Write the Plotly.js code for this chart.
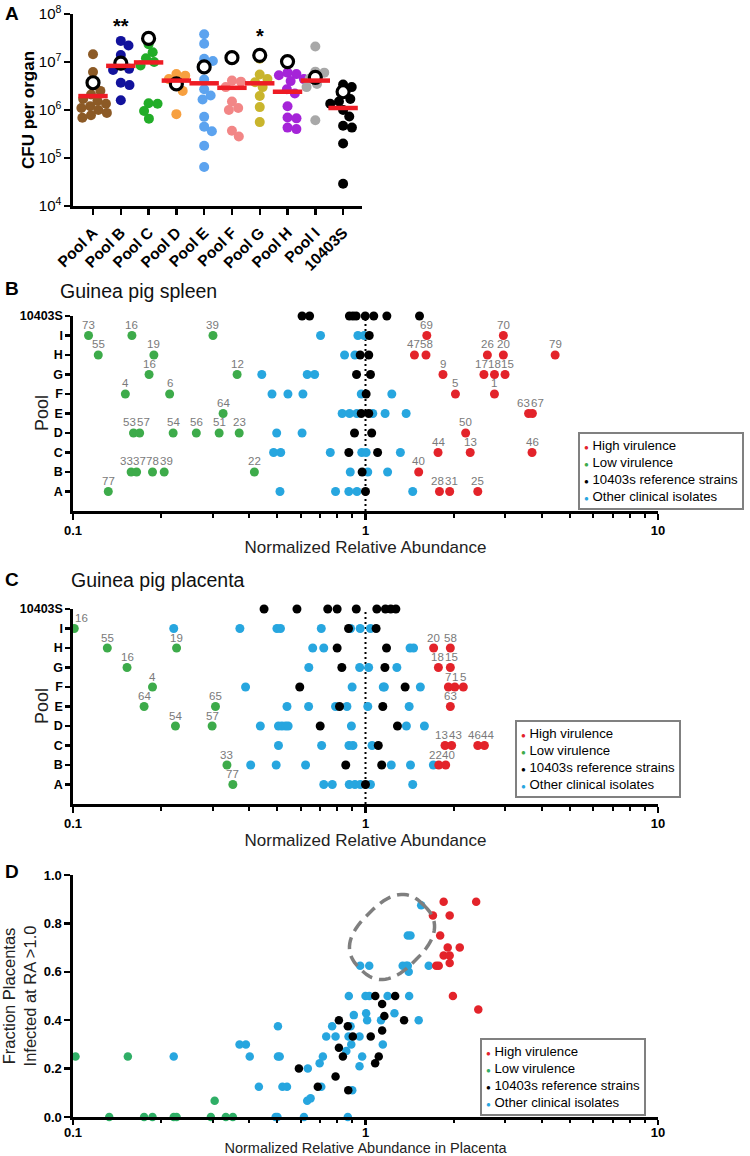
<!DOCTYPE html>
<html><head><meta charset="utf-8">
<script src="https://cdn.plot.ly/plotly-3.0.1.min.js"></script>
<style>body{margin:0;background:#fff}</style>
</head><body><div id="chart" style="width:750px;height:1156px"></div>
<script>
// ---------------- DATA ----------------
// Panel A: CFU per organ
const pools = ['Pool A','Pool B','Pool C','Pool D','Pool E','Pool F','Pool G','Pool H','Pool I','10403S'];
const cfuPoolA = [1.45e7, 6.2e6, 3.2e6, 2.5e6, 2.1e6, 1.7e6, 1.55e6, 1.35e6, 1.2e6, 1.1e6, 1.0e6, 8.7e5, 7.8e5, 6.9e5];
const cfuPoolB = [2.75e7, 2.2e7, 1.4e7, 8.5e6, 7.2e6, 6.8e6, 3.7e6, 3.3e6, 1.6e6];
const cfuPoolC = [2.35e7, 1.6e7, 1.2e7, 1.0e7, 8.5e6, 1.38e6, 1.35e6, 9.5e5, 6.6e5];
const cfuPoolD = [5.6e6, 5.2e6, 4.4e6, 3.4e6, 2.5e6, 8.2e5];
const cfuPoolE = [3.8e7, 2.4e7, 1.17e7, 1.05e7, 4.3e6, 2.7e6, 2.0e6, 1.65e6, 7.2e5, 4.5e5, 3.6e5, 1.8e5, 6.5e4];
const cfuPoolF = [4.1e6, 3.9e6, 3.0e6, 1.5e6, 1.1e6, 1.0e6, 3.7e5, 2.8e5];
const cfuPoolG = [1.17e7, 5.5e6, 4.4e6, 3.8e6, 3.0e6, 1.95e6, 1.15e6, 5.6e5];
const cfuPoolH = [6.0e6, 5.6e6, 5.3e6, 4.4e6, 4.0e6, 2.7e6, 2.2e6, 1.2e6, 7.0e5, 6.7e5, 4.3e5, 4.0e5];
const cfuPoolI = [2.1e7, 6.3e6, 6.0e6, 4.5e6, 3.5e6, 3.0e6, 6.1e5];
const cfu10403S = [3.4e6, 3.0e6, 2.2e6, 1.7e6, 1.5e6, 1.35e6, 1.0e6, 7.3e5, 4.7e5, 4.3e5, 2.0e5, 2.9e4];
const cfuRing = [3.7e6, 9.5e6, 3.1e7, 3.5e6, 7.9e6, 1.23e7, 1.38e7, 1.02e7, 4.8e6, 2.4e6];
const cfuMedian = [1.95e6, 8.3e6, 9.8e6, 4.1e6, 3.6e6, 2.9e6, 3.6e6, 2.4e6, 4.1e6, 1.1e6];
const cfuTickVals = [1e4, 1e5, 1e6, 1e7, 1e8];
const cfuTickText = ['10<sup>4</sup>', '10<sup>5</sup>', '10<sup>6</sup>', '10<sup>7</sup>', '10<sup>8</sup>'];

// Panels B/C rows
const rows = ['A','B','C','D','E','F','G','H','I','10403S'];
const legendNames = ['High virulence','Low virulence','10403s reference strains','Other clinical isolates'];

// Panel B: spleen
const spleenHighRow = ['I','I','H','H','H','H','H','G','G','G','G','F','F','E','E','D','C','C','C','B','A','A','A'];
const spleenHighRA = [1.62,2.96,1.47,1.61,2.61,2.96,4.45,1.84,2.54,2.76,3.0,2.03,2.76,3.61,3.72,2.2,1.77,2.28,3.71,1.52,1.79,1.94,2.42];
const spleenHighLabel = ['69','70','47','58','26','20','79','9','17','18','15','5','1','63','67','50','44','13','46','40','28','31','25'];
const spleenLowRow = ['I','I','I','H','H','G','G','F','F','E','D','D','D','D','D','D','B','B','B','B','B','A'];
const spleenLowRA = [0.113,0.159,0.301,0.122,0.189,0.182,0.364,0.151,0.214,0.326,0.161,0.169,0.220,0.264,0.316,0.370,0.158,0.165,0.187,0.205,0.417,0.132];
const spleenLowLabel = ['73','16','39','55','19','16','12','4','6','64','53','57','54','56','51','23','33','37','78','39','22','77'];
const spleenRefRow = ['10403S','10403S','10403S','10403S','10403S','10403S','10403S','10403S','10403S','I','H','H','G','G','F','E','E','D','D','C','C','B','A'];
const spleenRefRA = [0.607,0.644,0.881,0.906,0.929,0.998,1.067,1.183,1.53,1.03,0.959,1.026,0.932,1.04,1.005,0.967,1.026,0.917,1.05,0.877,1.10,0.974,1.0];
const spleenOtherRow = ['I','I','I','H','H','G','G','G','F','F','F','F','F','E','E','E','E','E','E','D','D','C','C','C','C','C','C','B','B','B','A','A','A','A','A'];
const spleenOtherRA = [0.702,0.942,0.99,0.848,0.92,0.442,0.632,0.67,0.479,0.543,0.611,0.967,1.23,0.832,0.882,0.934,1.059,1.167,1.377,0.497,0.607,0.485,0.513,0.758,0.971,1.005,1.316,0.887,1.018,1.19,0.51,0.79,0.877,0.935,1.45];

// Panel C: placenta
const placHighRow = ['H','H','G','G','F','F','F','E','C','C','C','C','B','B'];
const placHighRA = [1.71,1.95,1.775,1.95,1.92,2.02,2.16,1.95,1.87,1.97,2.42,2.55,1.78,1.88];
const placHighLabel = ['20','58','18','15','7','1','5','63','13','43','46','44','22','40'];
const placLowRow = ['I','H','H','G','F','E','E','D','D','B','A'];
const placLowRA = [0.101,0.131,0.226,0.153,0.187,0.175,0.307,0.224,0.299,0.336,0.352];
const placLowLabel = ['16','55','19','16','4','64','65','54','57','33','77'];
const placRefRow = ['10403S','10403S','10403S','10403S','10403S','10403S','10403S','10403S','10403S','I','I','H','H','G','G','F','F','E','E','D','D','C','B','B','A'];
const placRefRA = [0.45,0.583,0.743,0.80,0.93,1.093,1.17,1.22,1.27,0.875,1.087,0.80,1.18,0.83,1.165,0.596,1.366,0.815,1.146,0.70,1.286,1.106,0.856,1.136,1.0];
const placOtherRow = ['I','I','I','I','I','I','I','I','H','H','H','H','G','G','G','G','F','F','F','F','F','E','E','E','E','E','E','D','D','D','D','D','D','D','D','C','C','C','C','C','B','B','B','B','B','B','A','A','A','A','A','A','A'];
const placOtherRA = [0.221,0.372,0.498,0.512,0.706,0.889,0.959,1.04,0.66,0.72,1.42,1.46,0.64,0.955,1.025,1.28,0.389,0.9,1.15,1.16,1.54,0.539,0.639,0.79,0.864,1.018,1.41,0.437,0.504,0.518,0.533,0.544,0.895,1.38,1.59,0.504,0.708,0.878,0.906,1.053,0.405,0.495,0.624,1.225,1.425,1.706,0.72,0.77,0.88,0.92,0.96,1.04,1.45];

// Panel D: fraction placentas infected vs RA in placenta
const dHighRA = [1.85,2.39,1.70,1.94,1.80,1.91,2.10,1.85,1.94,1.94,1.745,1.78,1.99,2.43];
const dHighFrac = [0.889,0.889,0.833,0.833,0.75,0.70,0.70,0.667,0.667,0.636,0.625,0.625,0.5,0.444];
const dLowRA = [0.102,0.154,0.305,0.133,0.175,0.187,0.221,0.226,0.296,0.333,0.352];
const dLowFrac = [0.25,0.25,0.067,0,0,0,0,0,0,0,0];
const dRefRA = [0.592,0.687,0.79,0.811,0.811,0.837,0.87,0.873,0.905,1.042,1.08,1.079,1.11,1.14,1.14,1.16,1.263,1.355];
const dRefFrac = [0.2,0.125,0.167,0.4,0.286,0.25,0.375,0.111,0.333,0.333,0.5,0.222,0.25,0.467,0.357,0.417,0.5,0.4];
const dOtherRA = [0.221,0.371,0.39,0.402,0.432,0.502,0.502,0.509,0.52,0.539,0.493,0.50,0.616,0.632,0.649,0.635,0.697,0.715,0.706,0.734,0.769,0.79,0.86,0.87,0.877,0.889,0.894,0.901,0.912,0.875,0.954,0.974,0.954,1.0,1.03,1.005,1.013,1.13,1.146,1.19,1.256,1.41,1.52,0.959,1.03,1.34,1.377,1.395,1.405,1.395,1.425,1.55,1.645];
const dOtherFrac = [0.25,0.3,0.3,0.25,0.125,0.375,0.25,0.25,0.125,0.125,0,0,0,0.067,0.077,0.2,0.222,0.25,0.125,0.333,0.375,0.333,0.273,0,0.5,0.375,0.3,0.111,0.421,0.333,0.333,0.25,0.21,0.5,0.5,0.429,0.4,0.4,0.3,0.5,0.429,0.5,0.4,0.625,0.625,0.625,0.625,0.625,0.6,0.75,0.75,0.875,0.625];

// ---------------- STYLE ----------------
const W = 750, H = 1156;
const FONT = 'Liberation Sans, Arial, Helvetica, sans-serif';
const fx = p => p / W, fy = p => 1 - p / H;
const RED = '#e3232a', GREEN = '#3dab4a', GREEN_D = '#2fae66', BLUE = '#27a6df', BLACK = '#000000';
const poolColors = ['#8c5a26','#12129c','#22ad28','#f7a040','#5ca3ef','#f28686','#c9b52c','#a524d8','#a8a8a8','#000000'];
const LABEL_GREY = '#7a7a7a';
const X_LEFT = 73, X_RIGHT = 658;

const traces = [];
const annotations = [];

// ---- Panel A ----
const aRange = [-0.72, 9.68];
const aPxPerUnit = (362 - 73) / (aRange[1] - aRange[0]);
const aPxPerDecade = (206 - 14) / 4;
function swarm(vals, center, diam) {
  const pts = vals.map((v, i) => ({ i, y: Math.log10(v) * aPxPerDecade }));
  pts.sort((a, b) => b.y - a.y);
  const placed = [], out = new Array(vals.length);
  for (const p of pts) {
    const cands = [0];
    for (const q of placed) {
      const dy = p.y - q.y;
      if (Math.abs(dy) < diam) { const dx = Math.sqrt(diam * diam - dy * dy); cands.push(q.x + dx, q.x - dx); }
    }
    cands.sort((a, b) => Math.abs(a) - Math.abs(b));
    let chosen = 0;
    for (const c of cands) {
      if (placed.every(q => (c - q.x) ** 2 + (p.y - q.y) ** 2 >= diam * diam - 0.01)) { chosen = c; break; }
    }
    placed.push({ x: chosen, y: p.y });
    out[p.i] = center + chosen / aPxPerUnit;
  }
  return out;
}
const cfuGroups = [cfuPoolA, cfuPoolB, cfuPoolC, cfuPoolD, cfuPoolE, cfuPoolF, cfuPoolG, cfuPoolH, cfuPoolI, cfu10403S];
cfuGroups.forEach((vals, i) => {
  traces.push({ type: 'scatter', mode: 'markers', name: pools[i], x: swarm(vals, i, 9), y: vals, xaxis: 'x', yaxis: 'y',
    marker: { color: poolColors[i], size: 10 }, cliponaxis: false, hoverinfo: 'skip' });
});
traces.push({ type: 'scatter', mode: 'markers', name: 'ring', x: pools.map((p, i) => i), y: cfuRing, xaxis: 'x', yaxis: 'y',
  marker: { symbol: 'circle', color: '#ffffff', size: 12, line: { color: '#000', width: 3.2 } }, cliponaxis: false, hoverinfo: 'skip' });
traces.push({ type: 'scatter', mode: 'markers', name: 'median', x: pools.map((p, i) => i), y: cfuMedian, xaxis: 'x', yaxis: 'y',
  marker: { symbol: 'line-ew', size: 21, line: { color: '#ee1c24', width: 4.5 } }, cliponaxis: false, hoverinfo: 'skip' });

// ---- Panels B & C ----
const rowIdx = r => rows.indexOf(r);
function rowTrace(ra, rowNames, color, xa, ya, name) {
  return { type: 'scatter', mode: 'markers', name, x: ra, y: rowNames.map(rowIdx),
    xaxis: xa, yaxis: ya, marker: { color, size: 9 }, cliponaxis: false, hoverinfo: 'skip' };
}
// isolate-number labels above points, spread apart so they do not collide
function labelAnnotations(ra, rowNames, labels, xa, ya) {
  const pxPerLog = (X_RIGHT - X_LEFT) / 2, charW = 6.3, gap = 0.8;
  const groups = {};
  ra.forEach((v, i) => {
    (groups[rowNames[i]] = groups[rowNames[i]] || []).push({ i, px: X_LEFT + (Math.log10(v) + 1) * pxPerLog, w: labels[i].length * charW });
  });
  Object.keys(groups).forEach(r => {
    const items = groups[r].sort((a, b) => a.px - b.px);
    let clusters = items.map(it => ({ items: [it], w: it.w, c: it.px }));
    let changed = true;
    while (changed) {
      changed = false;
      for (let k = 1; k < clusters.length; k++) {
        const A = clusters[k - 1], B = clusters[k];
        if (B.c - B.w / 2 < A.c + A.w / 2 + gap) {
          const its = A.items.concat(B.items);
          const w = its.reduce((s, it) => s + it.w, 0) + (its.length - 1) * gap;
          const c = its.reduce((s, it) => s + it.px, 0) / its.length;
          clusters.splice(k - 1, 2, { items: its, w, c });
          changed = true; break;
        }
      }
    }
    clusters.forEach(cl => {
      let left = Math.max(cl.c - cl.w / 2, X_LEFT + 2);
      cl.items.forEach(it => { it.lx = left + it.w / 2; left += it.w + gap; });
    });
    items.forEach(it => {
      annotations.push({ text: labels[it.i], xref: xa, yref: ya, x: Math.log10(ra[it.i]), y: rowIdx(r),
        xshift: it.lx - it.px, yshift: 10.5, xanchor: 'center', yanchor: 'middle', showarrow: false,
        font: { size: 11.5, color: LABEL_GREY } });
    });
  });
}
function refLine(xa, ya) {
  return { type: 'scatter', mode: 'lines', name: 'RA = 1', x: [1, 1], y: [-1, 9], xaxis: xa, yaxis: ya,
    line: { color: '#000', width: 2, dash: '2px,3px' }, hoverinfo: 'skip' };
}
traces.push(refLine('x2', 'y2'));
traces.push(rowTrace(spleenOtherRA, spleenOtherRow, BLUE, 'x2', 'y2', legendNames[3]));
traces.push(rowTrace(spleenRefRA, spleenRefRow, BLACK, 'x2', 'y2', legendNames[2]));
traces.push(rowTrace(spleenLowRA, spleenLowRow, GREEN, 'x2', 'y2', legendNames[1]));
traces.push(rowTrace(spleenHighRA, spleenHighRow, RED, 'x2', 'y2', legendNames[0]));
labelAnnotations(spleenLowRA, spleenLowRow, spleenLowLabel, 'x2', 'y2');
labelAnnotations(spleenHighRA, spleenHighRow, spleenHighLabel, 'x2', 'y2');
traces.push(refLine('x3', 'y3'));
traces.push(rowTrace(placOtherRA, placOtherRow, BLUE, 'x3', 'y3', legendNames[3]));
traces.push(rowTrace(placRefRA, placRefRow, BLACK, 'x3', 'y3', legendNames[2]));
traces.push(rowTrace(placLowRA, placLowRow, GREEN, 'x3', 'y3', legendNames[1]));
traces.push(rowTrace(placHighRA, placHighRow, RED, 'x3', 'y3', legendNames[0]));
labelAnnotations(placLowRA, placLowRow, placLowLabel, 'x3', 'y3');
labelAnnotations(placHighRA, placHighRow, placHighLabel, 'x3', 'y3');

// ---- Panel D ----
function dTrace(x, y, color, name) {
  return { type: 'scatter', mode: 'markers', name, x, y, xaxis: 'x4', yaxis: 'y4', marker: { color, size: 8.5 }, cliponaxis: false, hoverinfo: 'skip' };
}
traces.push(dTrace(dOtherRA, dOtherFrac, BLUE, legendNames[3]));
traces.push(dTrace(dRefRA, dRefFrac, BLACK, legendNames[2]));
traces.push(dTrace(dLowRA, dLowFrac, GREEN_D, legendNames[1]));
traces.push(dTrace(dHighRA, dHighFrac, RED, legendNames[0]));

// ---------------- AXES ----------------
const base = { showline: true, linecolor: '#000', linewidth: 2.6, ticks: 'outside', tickcolor: '#000', tickwidth: 2.4,
  ticklen: 6, showgrid: false, zeroline: false, fixedrange: true };
const minorVals = [];
[0.1, 1].forEach(d => { for (let k = 2; k <= 9; k++) minorVals.push(+(d * k).toFixed(3)); });
function logX(anchor, titleText, titleSize, standoff, ticklen, labelStandoff) {
  return Object.assign({}, base, { type: 'log', range: [-1, 1], domain: [fx(X_LEFT), fx(X_RIGHT)], anchor,
    tickvals: [0.1, 1, 10], ticktext: ['0.1', '1', '10'], ticklen, ticklabelstandoff: labelStandoff,
    tickfont: { size: 13, weight: 'bold', color: '#000' },
    minor: { tickmode: 'array', tickvals: minorVals, ticks: 'outside', ticklen: ticklen - 2, tickwidth: 2, tickcolor: '#000', showgrid: false },
    title: { text: titleText, font: { size: titleSize, color: '#222' }, standoff } });
}
function rowY(anchor, top, bottom) {
  return Object.assign({}, base, { range: [-1, 9], domain: [fy(bottom), fy(top)], anchor,
    tickvals: rows.map((r, i) => i), ticktext: rows, ticklen: 5,
    tickfont: { size: 12.5, weight: 'bold', color: '#000' } });
}

const layout = {
  width: W, height: H, margin: { l: 0, r: 0, t: 0, b: 0 }, paper_bgcolor: '#fff', plot_bgcolor: 'rgba(0,0,0,0)',
  showlegend: false, font: { family: FONT, color: '#000' },
  xaxis: Object.assign({}, base, { range: aRange, domain: [fx(73), fx(362)], anchor: 'y',
    tickvals: pools.map((p, i) => i), ticktext: pools, tickangle: -45, ticklen: 6, ticklabelstandoff: 3,
    tickfont: { size: 15.5, weight: 'bold', color: '#000' } }),
  yaxis: Object.assign({}, base, { type: 'log', range: [4, 8], domain: [fy(206), fy(14)], anchor: 'x',
    tickvals: cfuTickVals, ticktext: cfuTickText, tickfont: { size: 15, color: '#000' },
    title: { text: 'CFU per organ', font: { size: 17, weight: 'bold', color: '#000' }, standoff: 0 } }),
  xaxis2: logX('y2', 'Normalized Relative Abundance', 17, 0, 6, 0),
  yaxis2: rowY('x2', 316, 511),
  xaxis3: logX('y3', 'Normalized Relative Abundance', 17, 0, 6, 0),
  yaxis3: rowY('x3', 609, 804),
  xaxis4: logX('y4', 'Normalized Relative Abundance in Placenta', 14.5, 3, 5, -3),
  yaxis4: Object.assign({}, base, { range: [0, 1], domain: [fy(1117), fy(875)], anchor: 'x4',
    tickvals: [0, 0.2, 0.4, 0.6, 0.8, 1.0], ticktext: ['0.0', '0.2', '0.4', '0.6', '0.8', '1.0'],
    tickfont: { size: 13, weight: 'bold', color: '#000' },
    title: { text: 'Fraction Placentas<br>Infected at RA >1.0', font: { size: 16.5, color: '#222' }, standoff: 6 } }),
  annotations,
  shapes: []
};

// panel letters and titles
[['A', 13], ['B', 288], ['C', 579], ['D', 871]].forEach(([t, py]) => {
  annotations.push({ text: '<b>' + t + '</b>', xref: 'paper', yref: 'paper', x: fx(3), y: fy(py),
    xanchor: 'left', yanchor: 'middle', showarrow: false, font: { size: 19, color: '#000' } });
});
[['Guinea pig spleen', 58, 291], ['Guinea pig placenta', 69, 580]].forEach(([t, px, py]) => {
  annotations.push({ text: t, xref: 'paper', yref: 'paper', x: fx(px), y: fy(py),
    xanchor: 'left', yanchor: 'middle', showarrow: false, font: { size: 19.5, color: '#111' } });
});
// "Pool" axis titles
[413, 706].forEach(py => {
  annotations.push({ text: 'Pool', xref: 'paper', yref: 'paper', x: fx(42), y: fy(py), textangle: -90,
    xanchor: 'center', yanchor: 'middle', showarrow: false, font: { size: 18, color: '#222' } });
});
// significance stars
annotations.push({ text: '<b>**</b>', xref: 'x', yref: 'paper', x: 1, y: fy(26), xanchor: 'center', yanchor: 'middle', showarrow: false, font: { size: 20 } });
annotations.push({ text: '<b>*</b>', xref: 'x', yref: 'paper', x: 6, y: fy(36), xanchor: 'center', yanchor: 'middle', showarrow: false, font: { size: 20 } });

// legends
const legendColorsBC = [RED, GREEN, BLACK, BLUE];
const legendColorsD = [RED, GREEN_D, BLACK, BLUE];
function legendText(colors) {
  return legendNames.map((n, i) => `<span style="color:${colors[i]};font-size:8px">●</span> ${n}`).join('<br>');
}
[[578, 432, legendColorsBC], [515, 720, legendColorsBC], [480, 1038, legendColorsD]].forEach(([px, py, cols]) => {
  annotations.push({ text: legendText(cols), xref: 'paper', yref: 'paper', x: fx(px), y: fy(py),
    xanchor: 'left', yanchor: 'top', align: 'left', showarrow: false, bgcolor: '#fff',
    bordercolor: '#808080', borderwidth: 2, borderpad: 4, font: { size: 13.2, color: '#000' } });
});

// dashed ellipse in panel D (rotated superellipse, pixel-based)
(function () {
  const cx = 392, cy = 937, a = 45, b = 33, n = 2.6, c = Math.SQRT1_2;
  let d = '';
  for (let k = 0; k <= 72; k++) {
    const t = k / 72 * 2 * Math.PI, ct = Math.cos(t), st = Math.sin(t);
    const u = a * Math.sign(ct) * Math.pow(Math.abs(ct), 2 / n);
    const v = b * Math.sign(st) * Math.pow(Math.abs(st), 2 / n);
    const px = cx + c * (u + v), py = cy + c * (-u + v);
    d += (k === 0 ? 'M' : 'L') + fx(px).toFixed(5) + ',' + fy(py).toFixed(5) + ' ';
  }
  layout.shapes.push({ type: 'path', path: d + 'Z', xref: 'paper', yref: 'paper',
    line: { color: '#7f7f7f', width: 3.5, dash: '12px,7px' } });
})();

Plotly.newPlot('chart', traces, layout, { staticPlot: true });
</script></body></html>
